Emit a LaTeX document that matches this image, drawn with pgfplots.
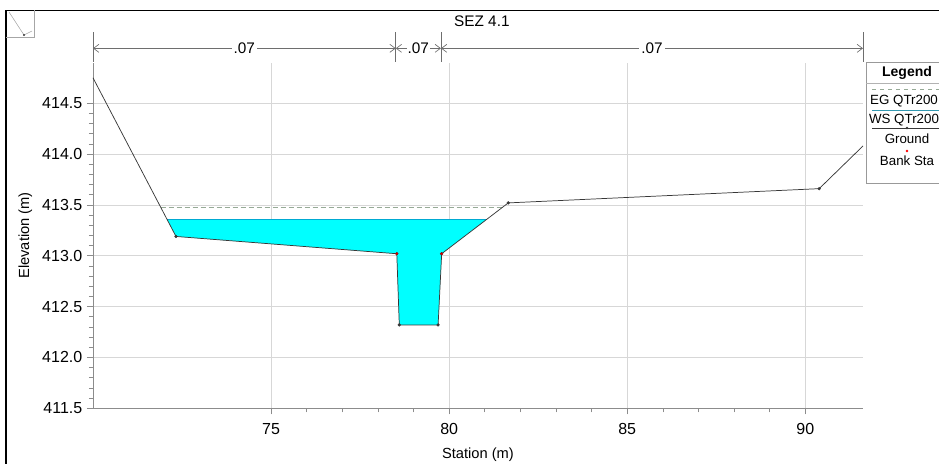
\documentclass[border=0pt]{standalone}
\usepackage{fontspec}
\setmainfont{Liberation Sans}
\usepackage{pgfplots}
\pgfplotsset{compat=1.18}
\usetikzlibrary{arrows.meta}

\definecolor{gridgray}{RGB}{215,215,215}
\definecolor{axgray}{RGB}{140,140,140}
\definecolor{ground}{RGB}{55,55,55}
\definecolor{water}{RGB}{0,255,255}
\definecolor{wsline}{RGB}{0,170,210}
\definecolor{eg}{RGB}{150,170,150}
\definecolor{annot}{RGB}{110,110,110}

\begin{document}
\begin{tikzpicture}
% page = the 939x464 px reference at 0.75pt per px
\path[use as bounding box] (-69.75pt,-41.775pt) rectangle (634.5pt,306.225pt);

\begin{axis}[
  scale only axis,
  width=577.5pt, height=259.3pt,
  xmin=70, xmax=91.62, ymin=411.5, ymax=414.9,
  clip=false,
  axis x line*=bottom, axis y line*=left,
  axis line style={axgray, line width=0.6pt},
  xtick={75,80,85,90},
  ytick={411.5,412,412.5,413,413.5,414,414.5},
  minor x tick num=4, minor y tick num=4,
  tick align=outside,
  major tick length=4.5pt, minor tick length=3pt,
  tick style={axgray, line width=0.5pt},
  grid=major,
  major grid style={gridgray, line width=0.5pt},
  /pgf/number format/assume math mode=true,
  yticklabel style={/pgf/number format/fixed, /pgf/number format/fixed zerofill, /pgf/number format/precision=1, font=\fontsize{12}{14}\selectfont},
  xticklabel style={font=\fontsize{12}{14}\selectfont, yshift=-3pt},
  every axis y label/.style={at={(axis description cs:-0.088,0.5)}, rotate=90, anchor=center, font=\fontsize{11}{13}\selectfont},
  every axis x label/.style={at={(axis description cs:0.5,-0.135)}, anchor=center, font=\fontsize{11}{13}\selectfont},
  xlabel={Station (m)}, ylabel={Elevation (m)},
  title={SEZ 4.1},
  every axis title/.style={at={(axis description cs:0.505,1.12)}, anchor=center, font=\fontsize{11.5}{13}\selectfont},
]
% water area (WS QTr200)
\addplot[fill=water, draw=none] coordinates {
 (72.08,413.36) (72.33,413.19) (78.53,413.02) (78.60,412.32) (79.69,412.32)
 (79.79,413.02) (81.06,413.36)} -- cycle;
\addplot[wsline, line width=0.6pt] coordinates {(72.08,413.36) (81.06,413.36)};
% energy grade line
\addplot[eg, dash pattern=on 4pt off 2pt, line width=0.6pt] coordinates {(71.90,413.48) (81.51,413.48)};
% ground
\addplot[ground, line width=0.55pt] coordinates {
 (70,414.75) (72.33,413.19) (78.53,413.02) (78.60,412.32) (79.69,412.32)
 (79.79,413.02) (81.66,413.52) (90.39,413.66) (91.62,414.08)};
\addplot[only marks, mark=*, mark size=1pt, ground] coordinates {
 (72.33,413.19) (78.53,413.02) (78.60,412.32) (79.69,412.32)
 (79.79,413.02) (81.66,413.52) (90.39,413.66)};
\addplot[only marks, mark=*, mark size=0.8pt, red!80!black] coordinates {(78.53,413.02) (79.79,413.02)};
% Manning's n annotations
\addplot[annot, line width=0.5pt] coordinates {(70,414.91) (70,415.20)};
\addplot[annot, line width=0.5pt] coordinates {(78.5,414.91) (78.5,415.20)};
\addplot[annot, line width=0.5pt] coordinates {(79.77,414.91) (79.77,415.20)};
\addplot[annot, line width=0.5pt] coordinates {(91.62,414.91) (91.62,415.20)};
\addplot[annot, line width=0.5pt, {Straight Barb[length=4pt,width=6pt]}-{Straight Barb[length=4pt,width=6pt]}] coordinates {(70,415.04) (78.5,415.04)}
  node[pos=0.5, fill=white, text=black, inner sep=1.5pt, font=\fontsize{11.5}{13}\selectfont] {.07};
\addplot[annot, line width=0.5pt, {Straight Barb[length=4pt,width=6pt]}-{Straight Barb[length=4pt,width=6pt]}] coordinates {(78.5,415.04) (79.77,415.04)}
  node[pos=0.5, fill=white, text=black, inner sep=0.8pt, font=\fontsize{11.5}{13}\selectfont] {.07};
\addplot[annot, line width=0.5pt, {Straight Barb[length=4pt,width=6pt]}-{Straight Barb[length=4pt,width=6pt]}] coordinates {(79.77,415.04) (91.62,415.04)}
  node[pos=0.5, fill=white, text=black, inner sep=1.5pt, font=\fontsize{11.5}{13}\selectfont] {.07};
\end{axis}

\begin{scope}[shift={(-69.75pt,306.225pt)}, x=0.75pt, y=-0.75pt]
% outer frame
\draw[black, line width=1.1pt] (6,480) -- (6,10.5) -- (960,10.5);
% small thumbnail icon
\draw[gray!70, line width=0.5pt] (6,37) -- (34,37) -- (34,10.5);
\draw[gray!70, line width=0.4pt] (9,12) -- (24,35) -- (32,31);
\fill[ground] (24,35) circle (1.2);
% legend
\draw[gray!80, line width=0.6pt] (866,183) -- (866,62) -- (960,62);
\draw[gray!80, line width=0.6pt] (866,183) -- (960,183);
\node[font=\bfseries\fontsize{10.5}{12}\selectfont] at (907,73) {Legend};
\draw[gray!60, line width=0.5pt] (866,83) -- (960,83);
\draw[eg, dashed, line width=0.5pt] (872,89) -- (942,89);
\node[font=\fontsize{10}{12}\selectfont] at (904,101) {EG QTr200};
\draw[wsline!60!gray, line width=0.5pt] (872,110) -- (942,110);
\node[font=\fontsize{10}{12}\selectfont] at (904,120) {WS QTr200};
\draw[ground, line width=0.5pt] (872,128) -- (942,128);
\fill[ground] (907,128) circle (1.3);
\node[font=\fontsize{10}{12}\selectfont] at (907,139) {Ground};
\fill[red] (907,151) circle (1.3);
\node[font=\fontsize{10}{12}\selectfont] at (907,161) {Bank Sta};
\end{scope}
\end{tikzpicture}
\end{document}
